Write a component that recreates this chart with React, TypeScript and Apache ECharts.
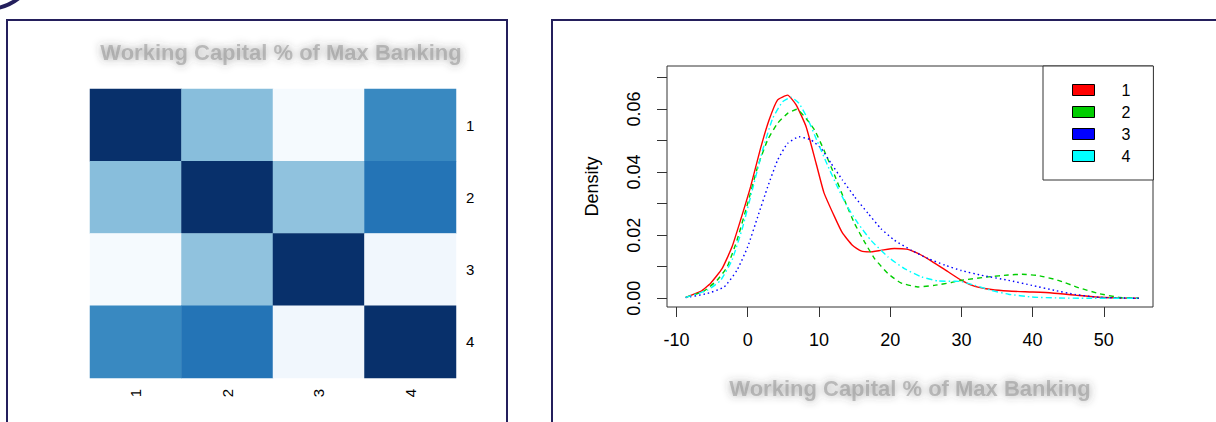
import React, { useEffect, useRef } from 'react';
import * as echarts from 'echarts';

// ---------- data ----------
const heatCols = ['1', '2', '3', '4'];
const heatRows = ['1', '2', '3', '4'];
const heatValues = [
  [1, 0.43, 0.01, 0.66],
  [0.43, 1, 0.41, 0.74],
  [0.01, 0.41, 1, 0.03],
  [0.66, 0.74, 0.03, 1],
];
const bluesPalette = ['#f7fbff', '#deebf7', '#c6dbef', '#9ecae1', '#6baed6', '#4292c6', '#2171b5', '#08519c', '#08306b'];

const seriesNames = ['1', '2', '3', '4'];
const seriesColors = ['#ff0000', '#00cd00', '#0000ff', '#00ffff'];

const density1: [number, number][] = [
  [-8.7, 0.0003], [-6.6, 0.0022], [-5.2, 0.0048], [-3.6, 0.0094], [-2.2, 0.0163], [-1.0, 0.0248],
  [0.4, 0.0353], [1.8, 0.0475], [3.0, 0.0565], [4.2, 0.0629], [5.6, 0.0644], [6.8, 0.0613],
  [8.2, 0.0544], [9.6, 0.0428], [10.7, 0.0335], [12.2, 0.0258], [13.3, 0.0207], [14.7, 0.0168],
  [15.9, 0.015], [17.1, 0.0147], [18.7, 0.0152], [20.6, 0.0158], [22.3, 0.0156], [23.9, 0.0142],
  [25.8, 0.0118], [28.0, 0.0086], [30.0, 0.0057], [31.9, 0.0038], [34.2, 0.0028], [36.6, 0.0023],
  [39.9, 0.002], [42.7, 0.0017], [46.0, 0.001], [48.8, 0.0004], [52.1, 0.0001], [54.9, 0.0],
];
const density2: [number, number][] = [
  [-8.7, 0.0003], [-6.2, 0.0022], [-4.3, 0.0057], [-2.9, 0.0099], [-1.5, 0.0184], [0.0, 0.0301],
  [1.4, 0.0417], [2.8, 0.0502], [4.2, 0.0555], [5.6, 0.0586], [6.9, 0.0599], [8.2, 0.057],
  [9.4, 0.0533], [10.7, 0.047], [12.2, 0.039], [13.6, 0.0311], [15.0, 0.0237], [16.4, 0.0179],
  [17.8, 0.0126], [19.7, 0.0078], [21.5, 0.0049], [23.9, 0.0036], [26.2, 0.0041], [28.6, 0.005],
  [30.0, 0.0057], [33.8, 0.0068], [36.6, 0.0074], [38.5, 0.0076], [40.8, 0.0072], [43.6, 0.0057],
  [46.4, 0.0034], [49.3, 0.0015], [52.1, 0.0003], [54.9, 0.0],
];
const density3: [number, number][] = [
  [-8.7, 0.0002], [-5.7, 0.0015], [-3.3, 0.0036], [-1.5, 0.0089], [0.0, 0.0163], [1.4, 0.0258],
  [2.8, 0.0353], [4.2, 0.0438], [5.6, 0.0491], [7.2, 0.0512], [8.9, 0.0502], [10.3, 0.0475],
  [11.7, 0.0428], [13.3, 0.0375], [15.0, 0.0322], [16.9, 0.0269], [18.7, 0.0221], [20.6, 0.0184],
  [23.0, 0.0152], [25.3, 0.0126], [27.7, 0.0105], [30.0, 0.0088], [32.8, 0.0073], [36.6, 0.0057],
  [39.9, 0.0041], [43.1, 0.0025], [46.0, 0.0012], [49.3, 0.0003], [54.9, 0.0],
];
const density4: [number, number][] = [
  [-8.7, 0.0003], [-5.7, 0.0025], [-3.8, 0.0057], [-2.2, 0.0121], [-0.7, 0.0226], [0.7, 0.0348],
  [2.1, 0.047], [3.5, 0.057], [4.9, 0.0623], [6.1, 0.0637], [7.2, 0.0618], [8.4, 0.057],
  [9.8, 0.0496], [11.2, 0.0422], [12.6, 0.0353], [14.0, 0.029], [15.5, 0.0237], [17.3, 0.0184],
  [19.7, 0.0131], [22.0, 0.0094], [24.4, 0.0068], [26.7, 0.0055], [29.1, 0.0054], [30.0, 0.0053],
  [31.9, 0.0041], [34.2, 0.0025], [36.6, 0.0013], [39.9, 0.0004], [43.6, 0.0001], [47.7, 0.0],
  [54.9, 0.0],
];
const densitySeries = [density1, density2, density3, density4];

const xTicks = [-10, 0, 10, 20, 30, 40, 50];
const yTicks = [0, 0.01, 0.02, 0.03, 0.04, 0.05, 0.06, 0.07];
const yTickLabels = [0, 0.02, 0.04, 0.06];

const titleText = 'Working Capital % of Max Banking';
const yAxisTitle = 'Density';

// ---------- styles ----------
const FONT = 'Liberation Sans, Arial, Helvetica, sans-serif';
const FRAME = '#241f5c';
const lineDashes: any[] = ['solid', [5, 4], [1.5, 3], [6, 3, 1.5, 3]];

const BLUR_FILL = 'rgba(135,135,135,0.5)';
const BLUR_SHADOW = 'rgba(60,60,60,1)';

const blurText = {
  color: BLUR_FILL,
  fontSize: 22,
  fontWeight: 'bold' as const,
  fontFamily: FONT,
  textShadowColor: BLUR_SHADOW,
  textShadowBlur: 8,
};

export default function App() {
  const ref = useRef<HTMLDivElement>(null);

  useEffect(() => {
    if (!ref.current) return;
    const chart = echarts.init(ref.current, undefined, { renderer: 'svg' });

    const heatData: number[][] = [];
    heatValues.forEach((row, r) => row.forEach((v, c) => heatData.push([c, r, v])));

    const option: any = {
      animation: false,
      backgroundColor: '#ffffff',
      textStyle: { fontFamily: FONT },
      grid: [
        { left: 90, top: 89, width: 366, height: 289 },
        {
          left: 667, top: 66, width: 486, height: 241, show: true,
          borderColor: '#333', borderWidth: 1, backgroundColor: 'transparent',
        },
      ],
      visualMap: {
        show: false, type: 'continuous', min: 0, max: 1, seriesIndex: 0,
        inRange: { color: bluesPalette },
      },
      legend: {
        data: seriesNames,
        left: 1043, top: 66, orient: 'vertical',
        icon: 'rect', itemWidth: 22, itemHeight: 11, itemGap: 6,
        padding: [16, 23, 16, 29],
        borderColor: '#333', borderWidth: 1, backgroundColor: '#fff',
        selectedMode: false,
        itemStyle: { borderColor: '#000', borderWidth: 1 },
        textStyle: { fontSize: 16, color: '#000', padding: [0, 0, 0, 22], lineHeight: 16, fontFamily: FONT },
      },
      xAxis: [
        {
          gridIndex: 0, type: 'category', data: heatCols, position: 'bottom',
          axisLine: { show: false }, axisTick: { show: false }, splitLine: { show: false },
          axisLabel: { rotate: 90, margin: 11, fontSize: 15, color: '#000' },
        },
        {
          gridIndex: 1, type: 'value', min: -11.33, max: 56.9, position: 'bottom',
          axisLine: { show: false, onZero: false }, splitLine: { show: false },
          axisTick: { show: true, length: 10, inside: false, customValues: xTicks, lineStyle: { color: '#333' } },
          axisLabel: { customValues: xTicks, margin: 24, fontSize: 18, color: '#000' },
          name: titleText, nameLocation: 'middle', nameGap: 70,
          nameTextStyle: blurText,
        },
      ],
      yAxis: [
        {
          gridIndex: 0, type: 'category', data: heatRows, inverse: true, position: 'right',
          axisLine: { show: false }, axisTick: { show: false }, splitLine: { show: false },
          axisLabel: { margin: 10, fontSize: 15, color: '#000' },
        },
        {
          gridIndex: 1, type: 'value', min: -0.00276, max: 0.07363, position: 'left',
          axisLine: { show: false, onZero: false }, splitLine: { show: false },
          axisTick: { show: true, length: 10, inside: false, customValues: yTicks, lineStyle: { color: '#333' } },
          axisLabel: {
            customValues: yTickLabels, rotate: 90, margin: 24, fontSize: 18, color: '#000',
            formatter: (v: number) => v.toFixed(2),
          },
          name: yAxisTitle, nameLocation: 'middle', nameRotate: 90, nameGap: 66,
          nameTextStyle: { fontSize: 18, color: '#000', fontFamily: FONT },
        },
      ],
      series: [
        {
          type: 'heatmap', xAxisIndex: 0, yAxisIndex: 0, data: heatData,
          itemStyle: { borderWidth: 0 }, emphasis: { disabled: true },
        },
        ...densitySeries.map((d, i) => ({
          type: 'line', name: seriesNames[i], xAxisIndex: 1, yAxisIndex: 1,
          data: d, smooth: 0.15, showSymbol: false, symbol: 'none',
          color: seriesColors[i],
          itemStyle: { color: seriesColors[i] },
          lineStyle: { color: seriesColors[i], width: 1.4, type: lineDashes[i] },
          emphasis: { disabled: true },
          z: 3 + i,
        })),
      ],
      graphic: [
        {
          type: 'rect', z: 100, silent: true,
          shape: { x: 7, y: 20, width: 500, height: 430 },
          style: { fill: 'none', stroke: FRAME, lineWidth: 2 },
        },
        {
          type: 'rect', z: 100, silent: true,
          shape: { x: 552, y: 20, width: 700, height: 430 },
          style: { fill: 'none', stroke: FRAME, lineWidth: 2 },
        },
        {
          type: 'bezierCurve', z: 100, silent: true,
          shape: { x1: -2, y1: 8, cpx1: 7, cpy1: 6, cpx2: 14, cpy2: 2, x2: 19, y2: -2 },
          style: { fill: 'none', stroke: FRAME, lineWidth: 4 },
        },
        {
          type: 'text', z: 100, silent: true, x: 281, y: 52,
          style: {
            text: titleText, align: 'center', verticalAlign: 'middle',
            fill: BLUR_FILL, font: `bold 22px ${FONT}`,
            textShadowColor: BLUR_SHADOW, textShadowBlur: 8,
          },
        },
      ],
    };

    chart.setOption(option);
    return () => chart.dispose();
  }, []);

  return (
    <div
      ref={ref}
      style={{ position: 'absolute', left: 0, top: 0, width: 1216, height: 422, background: '#fff' }}
    />
  );
}
